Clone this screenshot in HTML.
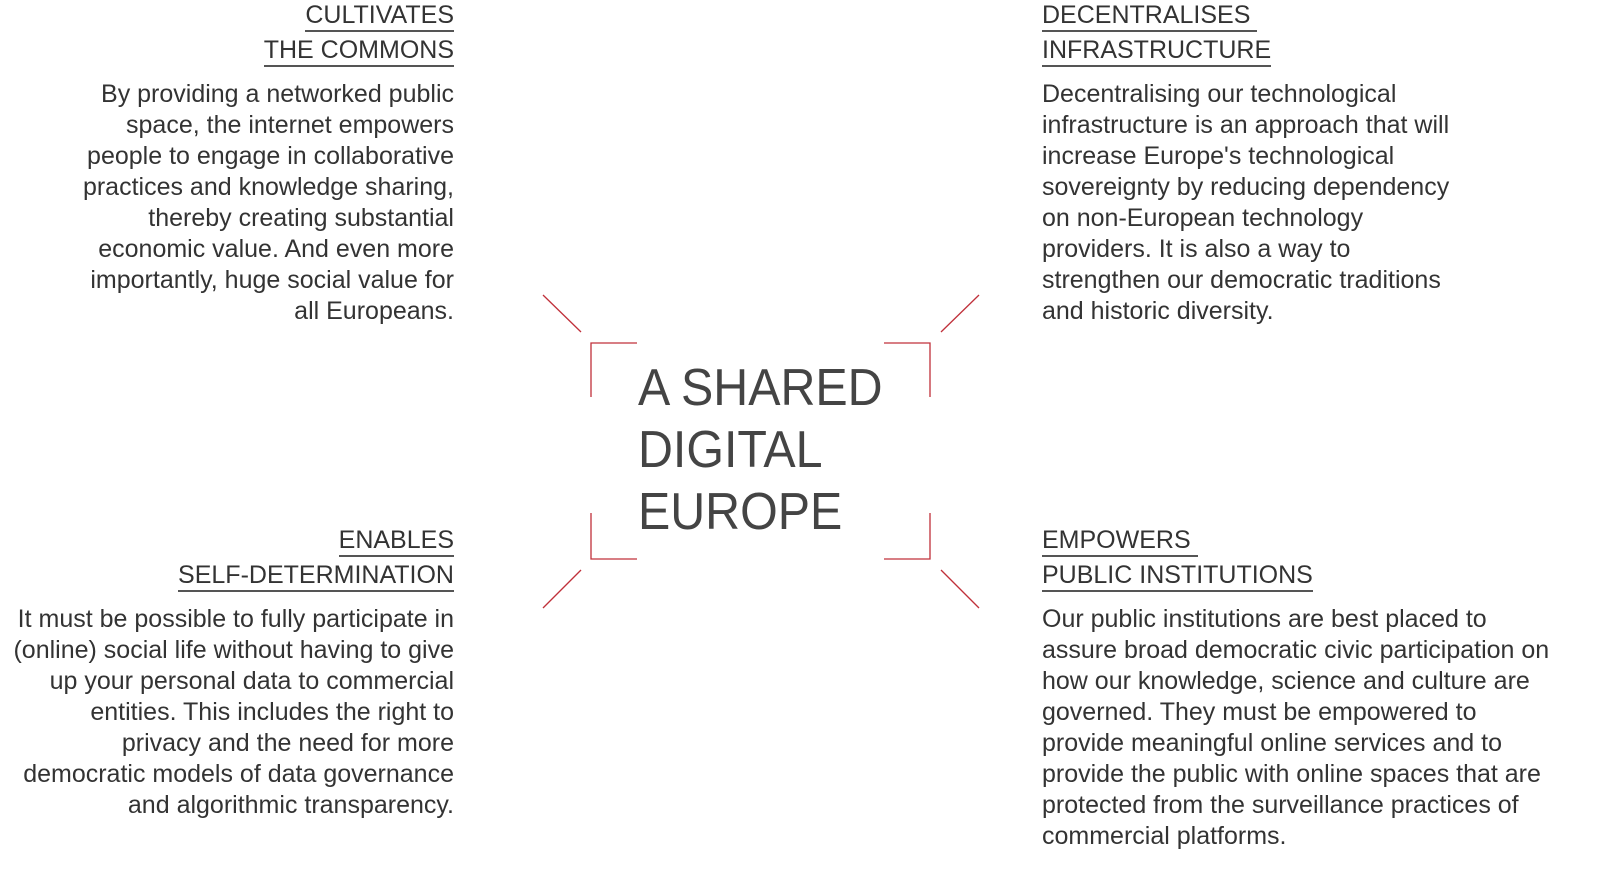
<!DOCTYPE html>
<html><head><meta charset="utf-8"><style>
html,body{margin:0;padding:0;background:#fff;}
body{width:1600px;height:869px;position:relative;overflow:hidden;font-family:"Liberation Sans",sans-serif;color:#333;}
.l{position:absolute;height:30px;line-height:30px;font-size:25px;white-space:nowrap;}
.r{text-align:right;right:1146px;}
.lf{left:1042px;}
.h span{border-bottom:2px solid #555;display:inline-block;line-height:30px;height:30px;color:#333;}
.t{position:absolute;left:638px;font-size:52px;line-height:62px;color:#444;white-space:nowrap;transform:scaleX(0.93);transform-origin:0 0;}
svg{position:absolute;left:0;top:0;}
</style></head><body>
<svg width="1600" height="869">
<g stroke="#c0303a" stroke-width="1.3" fill="none">
<polyline points="591,397 591,343 637,343"/>
<polyline points="884,343 930,343 930,397"/>
<polyline points="591,513 591,559 637,559"/>
<polyline points="884,559 930,559 930,513"/>
<line x1="543" y1="295" x2="581" y2="332"/>
<line x1="979" y1="295" x2="941" y2="332"/>
<line x1="543" y1="608" x2="581" y2="570"/>
<line x1="979" y1="608" x2="941" y2="570"/>
</g></svg>

<div class="l r h" style="top:0"><span>CULTIVATES</span></div>
<div class="l r h" style="top:35px"><span>THE COMMONS</span></div>
<div class="l r" style="top:79px">By providing a networked public</div>
<div class="l r" style="top:110px">space, the internet empowers</div>
<div class="l r" style="top:141px">people to engage in collaborative</div>
<div class="l r" style="top:172px">practices and knowledge sharing,</div>
<div class="l r" style="top:203px">thereby creating substantial</div>
<div class="l r" style="top:234px">economic value. And even more</div>
<div class="l r" style="top:265px">importantly, huge social value for</div>
<div class="l r" style="top:296px">all Europeans.</div>

<div class="l lf h" style="top:0"><span>DECENTRALISES&nbsp;</span></div>
<div class="l lf h" style="top:35px"><span>INFRASTRUCTURE</span></div>
<div class="l lf" style="top:79px">Decentralising our technological</div>
<div class="l lf" style="top:110px">infrastructure is an approach that will</div>
<div class="l lf" style="top:141px">increase Europe's technological</div>
<div class="l lf" style="top:172px">sovereignty by reducing dependency</div>
<div class="l lf" style="top:203px">on non-European technology</div>
<div class="l lf" style="top:234px">providers. It is also a way to</div>
<div class="l lf" style="top:265px">strengthen our democratic traditions</div>
<div class="l lf" style="top:296px">and historic diversity.</div>

<div class="l r h" style="top:525px"><span>ENABLES</span></div>
<div class="l r h" style="top:560px"><span>SELF-DETERMINATION</span></div>
<div class="l r" style="top:604px">It must be possible to fully participate in</div>
<div class="l r" style="top:635px">(online) social life without having to give</div>
<div class="l r" style="top:666px">up your personal data to commercial</div>
<div class="l r" style="top:697px">entities. This includes the right to</div>
<div class="l r" style="top:728px">privacy and the need for more</div>
<div class="l r" style="top:759px">democratic models of data governance</div>
<div class="l r" style="top:790px">and algorithmic transparency.</div>

<div class="l lf h" style="top:525px"><span>EMPOWERS&nbsp;</span></div>
<div class="l lf h" style="top:560px"><span>PUBLIC INSTITUTIONS</span></div>
<div class="l lf" style="top:604px">Our public institutions are best placed to</div>
<div class="l lf" style="top:635px">assure broad democratic civic participation on</div>
<div class="l lf" style="top:666px">how our knowledge, science and culture are</div>
<div class="l lf" style="top:697px">governed. They must be empowered to</div>
<div class="l lf" style="top:728px">provide meaningful online services and to</div>
<div class="l lf" style="top:759px">provide the public with online spaces that are</div>
<div class="l lf" style="top:790px">protected from the surveillance practices of</div>
<div class="l lf" style="top:821px">commercial platforms.</div>

<div class="t" style="top:357px">A SHARED</div>
<div class="t" style="top:419px">DIGITAL</div>
<div class="t" style="top:481px">EUROPE</div>
</body></html>
